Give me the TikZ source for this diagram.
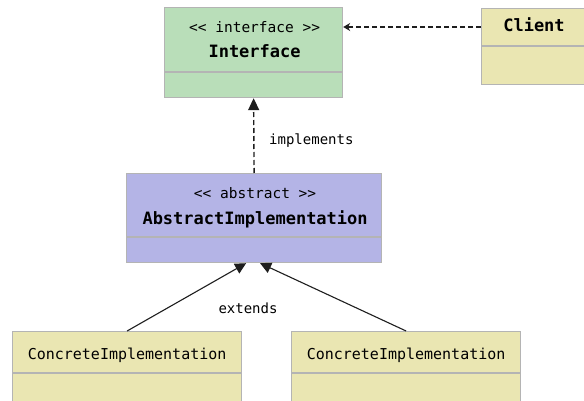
\documentclass[tikz,border=0pt]{standalone}
\usepackage{fontspec}
\setmonofont{DejaVu Sans Mono}
\usetikzlibrary{arrows.meta, positioning}

\definecolor{IfaceGreen}{HTML}{B9DEB9}
\definecolor{AbstractBlue}{HTML}{B4B4E6}
\definecolor{ClassYellow}{HTML}{EAE6B2}
\definecolor{BorderGray}{HTML}{B4B4B4}
\definecolor{LineGray}{HTML}{1E1E1E}

\begin{document}
\begin{tikzpicture}[
        x=1pt, y=-1pt,
        font=\ttfamily,
        classbox/.style={draw=BorderGray, line width=1.2pt, inner sep=0pt, anchor=north west},
        divider/.style={draw=BorderGray, line width=1.2pt},
        stereo/.style={anchor=base, inner sep=0pt, font=\ttfamily\fontsize{14.5}{17}\selectfont},
        classname/.style={anchor=base, inner sep=0pt, font=\ttfamily\bfseries\fontsize{17}{20}\selectfont},
        plainname/.style={anchor=base, inner sep=0pt, font=\ttfamily\fontsize{15}{18}\selectfont},
        edgelabel/.style={inner sep=0pt, font=\ttfamily\fontsize{14}{17}\selectfont},
        uses/.style={draw=LineGray, line width=1.4pt, dash pattern=on 5pt off 3pt, -{Stealth[length=7pt,width=8pt]}},
        realizes/.style={draw=LineGray, line width=1.4pt, dash pattern=on 5pt off 3pt, -{Triangle[length=12pt,width=11pt]}},
        inherits/.style={draw=LineGray, line width=1.1pt, -{Triangle[length=11pt,width=11pt]}},
    ]

    \clip (0,0) rectangle (584,401);
    \fill[white] (0,0) rectangle (584,401);

    % class boxes
    \node[classbox, fill=IfaceGreen, minimum width=178pt, minimum height=90pt] (iface) at (164,7) {};
    \node[classbox, fill=ClassYellow, minimum width=112pt, minimum height=76pt] (client) at (481,8) {};
    \node[classbox, fill=AbstractBlue, minimum width=255pt, minimum height=89pt] (abstract) at (126,173) {};
    \node[classbox, fill=ClassYellow, minimum width=229pt, minimum height=80pt] (concleft) at (12,331) {};
    \node[classbox, fill=ClassYellow, minimum width=229pt, minimum height=80pt] (concright) at (291,331) {};

    \draw[divider] ([yshift=-65pt]iface.north west) -- ([yshift=-65pt]iface.north east);
    \draw[divider] ([yshift=-38pt]client.north west) -- ([yshift=-38pt]client.north east);
    \draw[divider] ([yshift=-64pt]abstract.north west) -- ([yshift=-64pt]abstract.north east);
    \draw[divider] ([yshift=-42pt]concleft.north west) -- ([yshift=-42pt]concleft.north east);
    \draw[divider] ([yshift=-42pt]concright.north west) -- ([yshift=-42pt]concright.north east);

    % titles
    \node[stereo] (ifacestereo) at ([xshift=1pt, yshift=-26pt]iface.north) {<{}< interface >{}>};
    \node[classname] (ifacename) at ([xshift=1pt, yshift=-51pt]iface.north) {Interface};
    \node[classname] (clientname) at ([xshift=53pt, yshift=-24pt]client.north west) {Client};
    \node[stereo] (abstractstereo) at ([xshift=1pt, yshift=-25pt]abstract.north) {<{}< abstract >{}>};
    \node[classname] (abstractname) at ([xshift=1pt, yshift=-51pt]abstract.north) {AbstractImplementation};
    \node[plainname] (concleftname) at ([yshift=-28pt]concleft.north) {ConcreteImplementation};
    \node[plainname] (concrightname) at ([yshift=-28pt]concright.north) {ConcreteImplementation};

    % relations
    \draw[uses] ([yshift=-19pt]client.north west) -- ([yshift=-20pt]iface.north east);
    \draw[realizes] (abstract.north) -- (iface.south);
    \draw[inherits] (concleft.north) -- ([xshift=-8pt]abstract.south);
    \draw[inherits] (concright.north) -- ([xshift=6pt]abstract.south);

    \node[edgelabel, anchor=base west] (implements) at (269,145) {implements};
    \node[edgelabel, anchor=base] (extends) at (248,313) {extends};

\end{tikzpicture}
\end{document}
